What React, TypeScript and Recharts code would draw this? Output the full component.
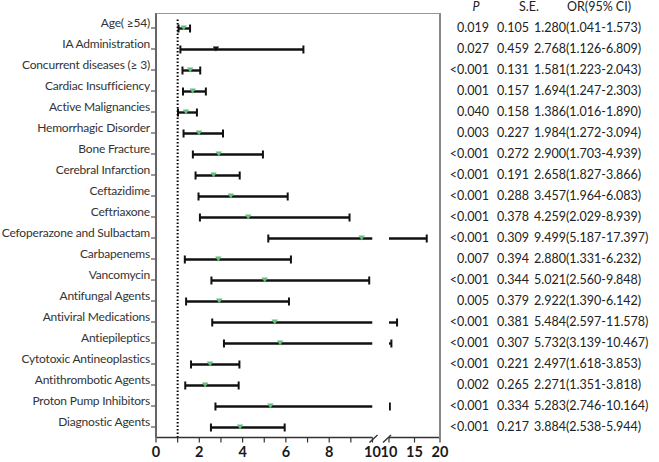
import React from 'react';
import { ComposedChart, Bar, Line, XAxis, YAxis, ReferenceLine } from 'recharts';

// Risk factors and their logistic-regression results
const factorNames = [
  'Age( ≥54)',
  'IA Administration',
  'Concurrent diseases (≥ 3)',
  'Cardiac Insufficiency',
  'Active Malignancies',
  'Hemorrhagic Disorder',
  'Bone Fracture',
  'Cerebral Infarction',
  'Ceftazidime',
  'Ceftriaxone',
  'Cefoperazone and Sulbactam',
  'Carbapenems',
  'Vancomycin',
  'Antifungal Agents',
  'Antiviral Medications',
  'Antiepileptics',
  'Cytotoxic Antineoplastics',
  'Antithrombotic Agents',
  'Proton Pump Inhibitors',
  'Diagnostic Agents',
];

const pValues = [
  '0.019', '0.027', '<0.001', '0.001', '0.040', '0.003', '<0.001', '<0.001', '<0.001', '<0.001',
  '<0.001', '0.007', '<0.001', '0.005', '<0.001', '<0.001', '<0.001', '0.002', '<0.001', '<0.001',
];

const seValues = [
  0.105, 0.459, 0.131, 0.157, 0.158, 0.227, 0.272, 0.191, 0.288, 0.378,
  0.309, 0.394, 0.344, 0.379, 0.381, 0.307, 0.221, 0.265, 0.334, 0.217,
];

const oddsRatios = [
  1.28, 2.768, 1.581, 1.694, 1.386, 1.984, 2.9, 2.658, 3.457, 4.259,
  9.499, 2.88, 5.021, 2.922, 5.484, 5.732, 2.497, 2.271, 5.283, 3.884,
];

const ciLower = [
  1.041, 1.126, 1.223, 1.247, 1.016, 1.272, 1.703, 1.827, 1.964, 2.029,
  5.187, 1.331, 2.56, 1.39, 2.597, 3.139, 1.618, 1.351, 2.746, 2.538,
];

const ciUpper = [
  1.573, 6.809, 2.043, 2.303, 1.89, 3.094, 4.939, 3.866, 6.083, 8.939,
  17.397, 6.232, 9.848, 6.142, 11.578, 10.467, 3.853, 3.818, 10.164, 5.944,
];

// Axis ticks for the two sides of the broken x axis
const lowTicks = [0, 1, 2, 3, 4, 5, 6, 7, 8, 9, 10];
const highTicks = [10, 15, 20];

const AXIS_BREAK = 10;
const AXIS_MAX = 20;

const rows = factorNames.map((name, i) => ({
  name,
  or: oddsRatios[i],
  low: ciLower[i],
  high: ciUpper[i],
}));

const FONT = 'Lato, "Open Sans", sans-serif';
const MARKER_GREEN = '#63c07a';
const darkMarkerRows = new Set(['IA Administration']);

const WHISKER = '#111';

function drawWhisker(props: any, capLeft: boolean, capRight: boolean) {
  const { x, y, width, height } = props;
  const cy = y + height / 2;
  const x2 = x + width;
  return (
    <g>
      <line x1={x} y1={cy} x2={x2} y2={cy} stroke={WHISKER} strokeWidth={2.4} />
      {capLeft && <line x1={x} y1={cy - 4} x2={x} y2={cy + 4} stroke={WHISKER} strokeWidth={2} />}
      {capRight && <line x1={x2} y1={cy - 4} x2={x2} y2={cy + 4} stroke={WHISKER} strokeWidth={2} />}
    </g>
  );
}

const LowWhisker = (props: any) =>
  drawWhisker(props, true, props.payload.high <= AXIS_BREAK);

const HighWhisker = (props: any) =>
  props.payload.high > AXIS_BREAK ? drawWhisker(props, false, true) : <g />;

const TriangleDot = (props: any) => {
  const { cx, cy, payload } = props;
  if (cx == null || cy == null) return <g />;
  const fill = darkMarkerRows.has(payload.name) ? '#111' : MARKER_GREEN;
  return (
    <path
      d={`M${cx - 3.2},${cy - 2.6} L${cx + 3.2},${cy - 2.6} L${cx},${cy + 2.4} Z`}
      fill={fill}
    />
  );
};

const NameTick = (props: any) => {
  const { x, y, payload } = props;
  return (
    <text
      x={x}
      y={y}
      dy={-1}
      textAnchor="end"
      fontSize={12}
      letterSpacing={-0.2}
      fill="#333"
      fontFamily={FONT}
    >
      {payload.value}
    </text>
  );
};

const TableTick = (props: any) => {
  const { x, y, index } = props;
  const i = index;
  const orText = `${oddsRatios[i].toFixed(3)}(${ciLower[i].toFixed(3)}-${ciUpper[i].toFixed(3)})`;
  return (
    <g fontFamily={FONT} fontSize={12.5} fill="#222">
      <text x={x + 49} y={y} dy={3.5} textAnchor="end">{pValues[i]}</text>
      <text x={x + 73} y={y} dy={3.5} textAnchor="middle">{seValues[i].toFixed(3)}</text>
      <text x={x + 94} y={y} dy={3.5} textAnchor="start">{orText}</text>
    </g>
  );
};

const xTickStyle = { fontSize: 14.5, fontWeight: 700, fill: '#1a1a1a', fontFamily: FONT };
const evenOnly = (v: number) => (v % 2 === 0 ? String(v) : '');

export default function App() {
  return (
    <div
      style={{
        position: 'absolute',
        left: 0,
        top: 0,
        width: 659,
        height: 462,
        background: '#fff',
        overflow: 'hidden',
        fontFamily: FONT,
      }}
    >
      {/* left part of the axis: 0 – 10 */}
      <div style={{ position: 'absolute', left: 0, top: 0 }}>
        <ComposedChart
          width={392}
          height={462}
          layout="vertical"
          data={rows}
          margin={{ top: 17.5, right: 19.5, bottom: 0.5, left: 0 }}
        >
          <XAxis
            type="number"
            domain={[0, AXIS_BREAK]}
            ticks={lowTicks}
            allowDataOverflow
            tickFormatter={evenOnly}
            interval={0}
            height={24}
            tickSize={5}
            tickMargin={4}
            stroke="#333"
            axisLine={{ stroke: '#333', strokeWidth: 1.5 }}
            tickLine={{ stroke: '#333', strokeWidth: 1.2 }}
            tick={xTickStyle}
          />
          <YAxis
            type="category"
            dataKey="name"
            width={156}
            interval={0}
            axisLine={false}
            tickSize={5}
            tickMargin={1}
            tickLine={{ stroke: '#555', strokeWidth: 1.2 }}
            tick={<NameTick />}
          />
          <ReferenceLine
            x={1}
            stroke="#000"
            strokeWidth={2}
            strokeDasharray="1.5 2"
          />
          <Bar
            dataKey={(d: any) => [d.low, Math.min(d.high, AXIS_BREAK)]}
            barSize={8}
            shape={LowWhisker}
            isAnimationActive={false}
          />
          <Line
            dataKey="or"
            stroke="none"
            dot={<TriangleDot />}
            activeDot={false}
            isAnimationActive={false}
          />
        </ComposedChart>
      </div>

      {/* right part of the axis: 10 – 20, with the statistics table */}
      <div style={{ position: 'absolute', left: 380, top: 0 }}>
        <ComposedChart
          width={279}
          height={462}
          layout="vertical"
          data={rows}
          margin={{ top: 17.5, right: 0, bottom: 0.5, left: 9 }}
        >
          <XAxis
            type="number"
            domain={[AXIS_BREAK, AXIS_MAX]}
            ticks={highTicks}
            allowDataOverflow
            interval={0}
            height={24}
            tickSize={5}
            tickMargin={4}
            stroke="#333"
            axisLine={{ stroke: '#333', strokeWidth: 1.5 }}
            tickLine={{ stroke: '#333', strokeWidth: 1.2 }}
            tick={xTickStyle}
          />
          <YAxis
            type="category"
            dataKey="name"
            orientation="right"
            width={219}
            interval={0}
            axisLine={false}
            tickLine={false}
            tickSize={0}
            tickMargin={0}
            tick={<TableTick />}
          />
          <Bar
            dataKey={(d: any) =>
              d.high > AXIS_BREAK ? [AXIS_BREAK, d.high] : [AXIS_BREAK, AXIS_BREAK]
            }
            barSize={8}
            shape={HighWhisker}
            isAnimationActive={false}
          />
        </ComposedChart>
      </div>

      {/* plot frame: left axis, top and right borders */}
      <div
        style={{
          position: 'absolute',
          left: 155,
          top: 13,
          width: 286,
          height: 425,
          boxSizing: 'border-box',
          borderLeft: '2px solid #666',
          borderTop: '1.5px solid #999',
          borderRight: '2px solid #888',
          pointerEvents: 'none',
        }}
      />

      {/* axis break marks and table header */}
      <svg
        width={659}
        height={462}
        style={{ position: 'absolute', left: 0, top: 0, pointerEvents: 'none' }}
      >
        <rect x={374} y={434} width={13} height={8} fill="#fff" />
        <line x1={369.5} y1={442.5} x2={377.5} y2={435} stroke="#333" strokeWidth={1.4} />
        <line x1={383} y1={442.5} x2={391} y2={435} stroke="#333" strokeWidth={1.4} />
        <g fontFamily={FONT} fontSize={12.5} fill="#222">
          <text x={476} y={11} textAnchor="middle" fontStyle="italic">P</text>
          <text x={529} y={11} textAnchor="middle">S.E.</text>
          <text x={599} y={11} textAnchor="middle">OR(95% CI)</text>
        </g>
      </svg>
    </div>
  );
}
